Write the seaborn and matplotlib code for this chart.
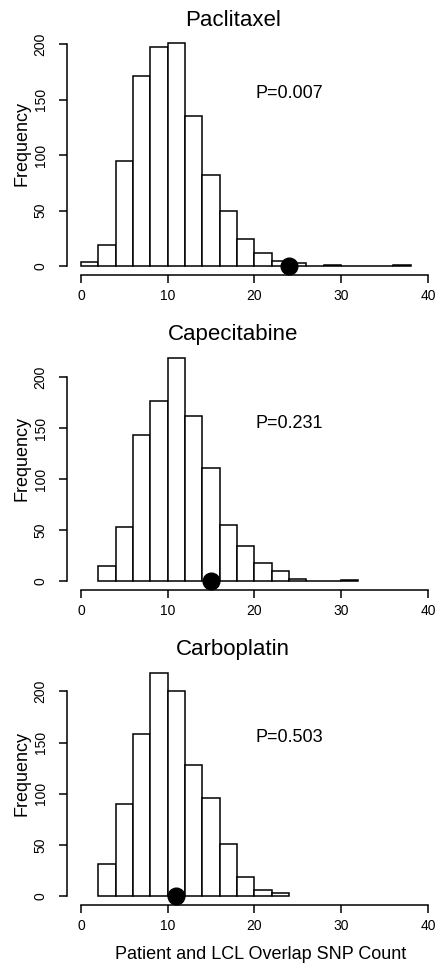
import numpy as np
import pandas as pd
import seaborn as sns
import matplotlib
matplotlib.use("Agg")
import matplotlib.pyplot as plt

# drug names and permutation p-values
drugs = ["Paclitaxel", "Capecitabine", "Carboplatin"]
pvals = ["P=0.007", "P=0.231", "P=0.503"]
observed = [24, 15, 11]

# histogram bin starts (width 2) and counts
pac_start = 0
pac_counts = [4, 19, 95, 171, 197, 201, 135, 82, 50, 24, 12, 5, 3, 0, 1, 0, 0, 0, 1]
cap_start = 2
cap_counts = [15, 53, 143, 177, 219, 162, 111, 55, 34, 18, 10, 2, 0, 0, 1]
car_start = 2
car_counts = [31, 90, 158, 218, 200, 128, 96, 51, 19, 6, 3]

starts = [pac_start, cap_start, car_start]
counts = [pac_counts, cap_counts, car_counts]

sns.set_style("ticks", {"axes.edgecolor": "black", "text.color": "black",
                        "axes.labelcolor": "black", "xtick.color": "black",
                        "ytick.color": "black"})
plt.rcParams["font.family"] = ["Liberation Sans", "DejaVu Sans"]

W, H = 438, 967
fig = plt.figure(figsize=(W / 100, H / 100), dpi=100)

# plot regions (pixels from top): bottom edge of each axes
bottoms = [275, 590, 905]
title_y = [26, 340, 655]
ylab_y = [144, 459, 774]
left_px = 67
ax_h = 241
xlim = (-1.6, 41.6)
px_per_unit = (428 - 81) / 40.0
ax_w = (xlim[1] - xlim[0]) * px_per_unit

for i in range(3):
    c = counts[i]
    edges = [starts[i] + 2 * k for k in range(len(c) + 1)]
    df = pd.DataFrame({"mid": [e + 1 for e in edges[:-1]], "n": c})
    ax = fig.add_axes([left_px / W, 1 - bottoms[i] / H, ax_w / W, ax_h / H])
    sns.histplot(data=df, x="mid", weights="n", bins=edges, ax=ax,
                 color="white", edgecolor="black", linewidth=1.1, alpha=1)
    top = max(c)
    ax.set_xlim(*xlim)
    ax.set_ylim(-0.04 * top, 1.04 * top)
    ax.plot([observed[i]], [0], "o", color="black", markersize=12,
            clip_on=False, zorder=5)
    ax.text(24, 155, pvals[i], ha="center", va="center", fontsize=13,
            color="black")

    sns.despine(ax=ax)
    ax.spines["left"].set_bounds(0, 200)
    ax.spines["bottom"].set_bounds(0, 40)
    for s in ["left", "bottom"]:
        ax.spines[s].set_linewidth(1.1)
        ax.spines[s].set_color("black")
    ax.set_xticks([0, 10, 20, 30, 40])
    ax.set_yticks([0, 50, 100, 150, 200])
    ax.tick_params(axis="both", length=6, width=1.1, labelsize=10,
                   color="black", labelcolor="black")
    ax.tick_params(axis="x", pad=4)
    ax.tick_params(axis="y", pad=8, labelrotation=90)
    for lab in ax.get_yticklabels():
        lab.set_va("center")
    ax.set_xlabel("")
    ax.set_ylabel("")

    fig.text(233 / W, 1 - title_y[i] / H, drugs[i], ha="center",
             va="baseline", fontsize=16, color="black")
    fig.text(22 / W, 1 - ylab_y[i] / H, "Frequency", ha="center",
             va="center", rotation=90, fontsize=13, color="black")

fig.text(261 / W, 1 - 959 / H, "Patient and LCL Overlap SNP Count",
         ha="center", va="baseline", fontsize=13, color="black")

fig.savefig("out.png", dpi=100)
